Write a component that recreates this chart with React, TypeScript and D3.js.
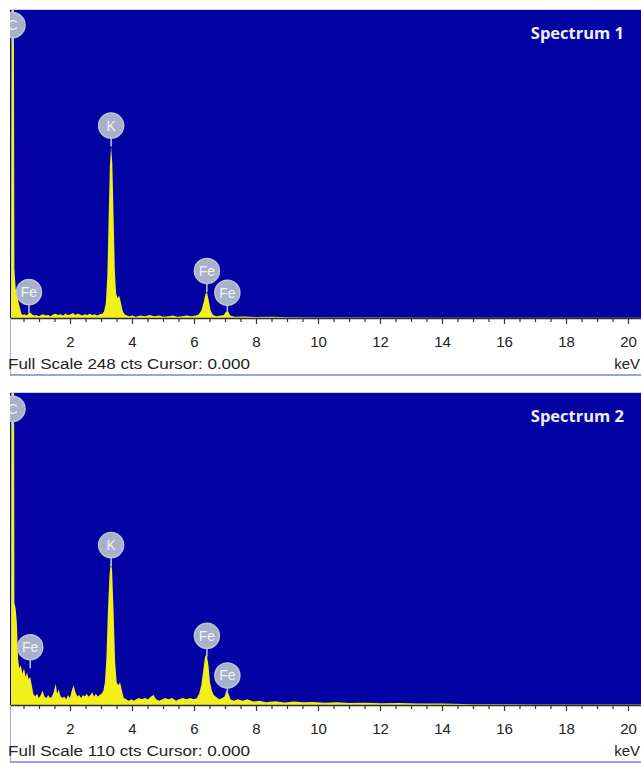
import React from 'react';
import * as d3 from 'd3';

// [energy keV, counts]
const spectrum1: [number, number][] = [
  [0, 0], [0.08, 0], [0.1, 300], [0.17, 300], [0.19, 40], [0.23, 24], [0.28, 18], [0.33, 12],
  [0.37, 8], [0.41, 4], [0.46, 2.5], [0.52, 3], [0.58, 2], [0.64, 3.5], [0.7, 4.5], [0.76, 3],
  [0.82, 2], [0.9, 2.5], [0.98, 1.5], [1.05, 2.5], [1.12, 3], [1.2, 2], [1.28, 2.5], [1.36, 1.5],
  [1.45, 3], [1.52, 3.5], [1.6, 2.5], [1.68, 3], [1.76, 2], [1.84, 3.5], [1.92, 2.5], [2.0, 3],
  [2.08, 4], [2.15, 2.5], [2.22, 3.5], [2.3, 3], [2.38, 2], [2.46, 3], [2.54, 2.5], [2.62, 3.5],
  [2.7, 2.5], [2.78, 3], [2.86, 2], [2.94, 3], [3.02, 3.5], [3.08, 5], [3.14, 12], [3.19, 35],
  [3.23, 80], [3.27, 122], [3.31, 138], [3.35, 124], [3.39, 82], [3.43, 38], [3.47, 20], [3.52, 16],
  [3.57, 18], [3.62, 13], [3.68, 6], [3.74, 3], [3.82, 2], [3.9, 1.5], [4.0, 2], [4.1, 1],
  [4.25, 2], [4.4, 1.5], [4.55, 2.5], [4.7, 1.5], [4.85, 2], [5.0, 1], [5.15, 1.5], [5.3, 2],
  [5.45, 1], [5.6, 1.5], [5.75, 2], [5.9, 1.5], [6.05, 2], [6.14, 3], [6.22, 6], [6.29, 12],
  [6.35, 19], [6.4, 21], [6.46, 14], [6.52, 6], [6.6, 2.5], [6.7, 1.5], [6.85, 2], [6.95, 2.5],
  [7.01, 5], [7.09, 5], [7.15, 2], [7.3, 1], [7.6, 1.2], [8.0, 0.8], [8.5, 1], [9, 0.6],
  [10, 0.5], [12, 0.4], [14, 0.3], [17, 0.2], [20.5, 0.2],
];

const spectrum2: [number, number][] = [
  [0, 0], [0.08, 0], [0.1, 200], [0.17, 200], [0.19, 36], [0.23, 34], [0.27, 29], [0.31, 16],
  [0.35, 13], [0.4, 14], [0.45, 11], [0.5, 13], [0.55, 10], [0.6, 11.5], [0.65, 9], [0.7, 10],
  [0.75, 7], [0.8, 4], [0.86, 3], [0.92, 4], [0.98, 2.5], [1.04, 3.5], [1.1, 5], [1.16, 3],
  [1.22, 2.5], [1.28, 3.5], [1.34, 2.5], [1.4, 3], [1.46, 4.5], [1.52, 7.5], [1.57, 4], [1.62, 5.5],
  [1.68, 3], [1.74, 2.5], [1.8, 3], [1.86, 2], [1.92, 3.5], [1.98, 2.5], [2.04, 5], [2.1, 7],
  [2.16, 4.5], [2.22, 3], [2.28, 3.5], [2.34, 2.5], [2.4, 3.5], [2.46, 3], [2.52, 4], [2.58, 3],
  [2.64, 3.5], [2.7, 4.5], [2.76, 3], [2.82, 4], [2.88, 3], [2.94, 3.5], [3.0, 4], [3.06, 5],
  [3.11, 8], [3.16, 17], [3.21, 34], [3.26, 46], [3.3, 50], [3.34, 48], [3.39, 33], [3.44, 15],
  [3.49, 8], [3.54, 7], [3.6, 8], [3.66, 5], [3.72, 2.5], [3.8, 2], [3.88, 1.5], [3.96, 2],
  [4.04, 1.5], [4.12, 2], [4.2, 2.5], [4.3, 2], [4.4, 2.5], [4.5, 2], [4.6, 3], [4.68, 3.5],
  [4.76, 2], [4.86, 1.5], [4.96, 2], [5.06, 2.5], [5.16, 2], [5.28, 2.5], [5.4, 1.5], [5.5, 2],
  [5.62, 2.5], [5.74, 2], [5.86, 2.5], [5.98, 2], [6.08, 2.5], [6.15, 4], [6.22, 7], [6.28, 12],
  [6.34, 17], [6.39, 18], [6.45, 14], [6.5, 8], [6.56, 5], [6.62, 3.5], [6.68, 3], [6.74, 2.5],
  [6.8, 2], [6.9, 2.5], [6.97, 3], [7.03, 5], [7.1, 4], [7.16, 2], [7.26, 1.5], [7.4, 2],
  [7.55, 1.5], [7.7, 2], [7.9, 1.2], [8.1, 1.5], [8.3, 1], [8.6, 1.3], [8.9, 0.9], [9.2, 1.2],
  [9.5, 1], [9.8, 1.1], [10.2, 0.8], [10.6, 1], [11, 0.7], [11.5, 0.8], [12, 0.6], [12.6, 0.7],
  [13.2, 0.5], [14, 0.5], [15, 0.3], [17, 0.2], [20.5, 0.2],
];

// element labels: e = energy, cts = where the stem ends
const labels1 = [
  { el: 'C', e: 0.13, cts: 219 },
  { el: 'K', e: 3.31, cts: 138 },
  { el: 'Fe', e: 0.66, cts: 4 },
  { el: 'Fe', e: 6.4, cts: 21 },
  { el: 'Fe', e: 7.06, cts: 3.5 },
];
const labels2 = [
  { el: 'C', e: 0.13, cts: 97 },
  { el: 'K', e: 3.31, cts: 49 },
  { el: 'Fe', e: 0.7, cts: 13 },
  { el: 'Fe', e: 6.4, cts: 17 },
  { el: 'Fe', e: 7.06, cts: 3 },
];

const tickLabels = [2, 4, 6, 8, 10, 12, 14, 16, 18, 20];

const W = 641;
const BLUE = '#0303a3';
const YELLOW = '#f2f018';
const SANS = 'Liberation Sans, Arial, sans-serif';

const x = d3.scaleLinear().domain([0, 20]).range([8.5, 628.5]);

const Panel = ({ id, top, height, data, fullScale, labels, title }) => {
  const axisY = top + height;
  const y = d3.scaleLinear().domain([0, fullScale]).range([axisY, top]);
  const area = d3
    .area<[number, number]>()
    .x(d => x(d[0]))
    .y0(axisY)
    .y1(d => y(d[1]));
  const minor = d3.range(0.5, 20.6, 0.5);

  return (
    <g>
      <defs>
        <clipPath id={id}>
          <rect x={10} y={top} width={W - 10} height={height} />
        </clipPath>
      </defs>
      <line x1={10} x2={W} y1={top - 0.5} y2={top - 0.5} stroke="#c9cdee" />
      <rect x={10} y={top} width={W - 10} height={height} fill={BLUE} />
      <g clipPath={`url(#${id})`}>
        <path d={area(data)} fill={YELLOW} />
        {labels.map((l, i) => {
          const cx = x(l.e);
          const cy = y(l.cts) - 21;
          return (
            <g key={i}>
              <line x1={cx} x2={cx} y1={cy + 11} y2={y(l.cts)} stroke="#c3cadc" strokeWidth={1.5} />
              <circle cx={cx} cy={cy} r={12.5} fill="#a7b1c8" stroke="#bcc4d8" strokeWidth={1.5} />
              <text x={cx} y={cy + 5} textAnchor="middle" fontFamily={SANS} fontSize={14} fill="#f0f3fa">
                {l.el}
              </text>
            </g>
          );
        })}
      </g>
      <text
        x={624}
        y={top + 29}
        textAnchor="end"
        fontFamily="Open Sans, sans-serif"
        fontWeight={700}
        fontSize={16.5}
        fill="#eceff9"
      >
        {title}
      </text>
      <line x1={10} x2={W} y1={axisY + 0.5} y2={axisY + 0.5} stroke="#2a2a3a" strokeWidth={1.5} />
      {minor.map(t => (
        <line
          key={t}
          x1={x(t)}
          x2={x(t)}
          y1={axisY}
          y2={axisY + (t % 2 === 0 ? 6 : 4)}
          stroke="#333"
          strokeWidth={1.2}
        />
      ))}
      {tickLabels.map(t => (
        <text key={t} x={x(t)} y={axisY + 29} textAnchor="middle" fontFamily={SANS} fontSize={15} fill="#222">
          {t}
        </text>
      ))}
      <line x1={10.5} x2={10.5} y1={axisY} y2={axisY + 57} stroke="#9fa6e0" />
      <line x1={10} x2={W} y1={axisY + 57} y2={axisY + 57} stroke="#7c84d4" strokeWidth={1.5} />
      <text
        x={8}
        y={axisY + 51}
        fontFamily={SANS}
        fontSize={15.5}
        textLength={242}
        lengthAdjust="spacingAndGlyphs"
        fill="#222"
      >
        {`Full Scale ${fullScale} cts Cursor: 0.000`}
      </text>
      <text x={640} y={axisY + 51} textAnchor="end" fontFamily={SANS} fontSize={15} fill="#222">
        keV
      </text>
    </g>
  );
};

export default function App() {
  return (
    <svg width={W} height={763} style={{ position: 'absolute', left: 0, top: 0, background: '#fff' }}>
      <rect width={W} height={763} fill="#fff" />
      <Panel id="c1" top={10} height={308} data={spectrum1} fullScale={248} labels={labels1} title="Spectrum 1" />
      <Panel id="c2" top={393} height={312} data={spectrum2} fullScale={110} labels={labels2} title="Spectrum 2" />
    </svg>
  );
}
